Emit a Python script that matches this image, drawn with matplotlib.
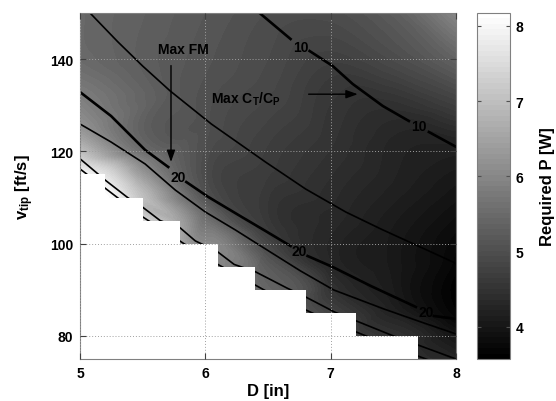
import numpy as np
import matplotlib
matplotlib.use('Agg')
import matplotlib.pyplot as plt
import matplotlib.tri as mtri
from matplotlib.colors import ListedColormap

plt.rcParams['font.family'] = ['Liberation Sans', 'DejaVu Sans']
plt.rcParams['font.weight'] = 'bold'
plt.rcParams['axes.labelweight'] = 'bold'
plt.rcParams['mathtext.fontset'] = 'custom'
plt.rcParams['mathtext.rm'] = 'Liberation Sans:bold'
plt.rcParams['mathtext.bf'] = 'Liberation Sans:bold'
plt.rcParams['mathtext.it'] = 'Liberation Sans:bold'

# ---------------- data ----------------
# Required power samples (D [in], v_tip [ft/s], P [W])
pw_D = [5.0, 5.5, 6.0, 6.5, 7.0, 7.5, 8.0,
        5.0, 6.0, 7.0, 7.5, 8.0,
        5.3, 5.5, 5.72, 6.048, 6.48, 7.12, 7.40, 7.976,
        6.5, 7.02, 7.42, 7.68, 8.0, 8.0,
        7.0, 7.5, 8.0, 8.0, 8.0, 7.5,
        5.0, 5.52, 6.02, 6.48, 7.02, 7.68, 8.0,
        5.0, 5.52, 6.0, 6.48, 7.02, 7.42, 8.0,
        5.0, 5.5, 5.92, 6.4, 6.8, 7.2, 7.7, 8.0,
        5.0, 5.2, 5.5, 5.8, 6.1, 6.4, 6.8, 7.7,
        5.2, 5.5, 5.8, 6.1, 6.4, 6.8, 7.2, 7.7,
        5.0, 5.0, 5.0, 6.0, 6.5, 7.2]
pw_v = [150, 150, 150, 150, 150, 150, 150,
        140, 140, 140, 140, 140,
        143.8, 138.5, 133.1, 125.9, 117.7, 106.9, 103.2, 96.0,
        135, 138.5, 129.8, 125.3, 121.0, 130,
        120, 112, 110, 100, 90, 95,
        132.9, 120.3, 110.1, 102.8, 95.0, 86.3, 83.7,
        125.9, 117.3, 106.9, 98.9, 90.0, 85.9, 80.4,
        118.4, 107.9, 100.6, 93.9, 88.45, 83.3, 78.0, 75.0,
        115, 115, 110, 105, 100, 95, 90, 80,
        110, 105, 100, 95, 90, 85, 80, 75,
        75, 100, 110, 80, 75, 75]
pw_P = [5.45, 5.3, 5.15, 5.0, 4.98, 5.25, 6.0,
        5.5, 5.1, 4.75, 4.95, 5.35,
        5.35, 5.28, 5.2, 5.0, 4.7, 4.3, 4.12, 3.72,
        4.9, 4.7, 4.45, 4.3, 4.2, 4.72,
        4.5, 4.2, 3.95, 3.75, 3.6, 4.05,
        5.8, 5.5, 5.05, 4.7, 4.3, 3.95, 3.72,
        6.2, 5.95, 5.45, 5.0, 4.5, 4.25, 3.95,
        7.3, 6.9, 6.1, 5.45, 5.0, 4.65, 4.35, 4.25,
        8.1, 7.6, 7.0, 6.45, 6.0, 5.5, 5.05, 4.35,
        8.17, 7.4, 6.6, 6.05, 5.55, 5.1, 4.75, 4.45,
        8.17, 8.17, 8.17, 7.0, 6.2, 5.2]

# infeasible (blank) staircase: band top v and minimum feasible D
step_vtop = [115, 110, 105, 100, 95, 90, 85, 80]
step_Dmin = [5.2, 5.5, 5.8, 6.1, 6.4, 6.8, 7.2, 7.7]
step_height = 5

# contour lines (NaN = gap for inline label)
cA_D = [6.424, 6.68, np.nan, 6.832, 7.016, 7.176, 7.416, 7.624, np.nan, 7.784, 8.0]
cA_v = [150.2, 144.36, np.nan, 141.76, 138.51, 134.61, 129.84, 126.59, np.nan, 124.20, 121.0]
cB_D = [5.08, 5.3, 5.5, 5.72, 6.048, 6.48, 6.80, 7.12, 7.40, 7.976, 8.0]
cB_v = [150.0, 143.8, 138.5, 133.09, 125.94, 117.70, 111.85, 106.87, 103.19, 96.03, 95.6]
cC_D = [5.0, 5.248, 5.52, 5.704, np.nan, 5.848, 6.024, 6.264, 6.48, 6.68, np.nan,
        6.816, 7.016, 7.32, 7.68, np.nan, 7.824, 8.0]
cC_v = [132.87, 127.67, 120.30, 116.62, np.nan, 113.37, 110.12, 106.22, 102.75, 99.50, np.nan,
        97.33, 94.95, 90.83, 86.28, np.nan, 84.33, 83.68]
cD_D = [5.0, 5.248, 5.52, 5.76, 6.0, 6.24, 6.48, 6.76, 7.024, 7.424, 7.72, 8.0]
cD_v = [125.94, 122.03, 117.27, 111.63, 106.87, 102.97, 98.85, 94.08, 89.97, 85.85, 83.03, 80.43]
cE_D = [5.0, 5.144, 5.2, 5.38, 5.5, 5.64, 5.8, 5.92, 6.09, 6.23, 6.4, 6.65, 6.8, 7.03, 7.2, 7.5, 7.7, 8.0]
cE_v = [118.4, 115.1, 113.8, 110.0, 107.9, 105.0, 103.4, 100.6, 98.4, 95.5, 93.9, 90.4, 88.45, 85.2, 83.3, 80.0, 78.0, 75.0]
cF_D = [5.0, 5.5, 6.0, 6.5, 7.0, 7.5, 7.8]
cF_v = [116.2, 105.8, 97.0, 89.5, 83.1, 77.6, 74.6]

labels_10 = [(6.764, 142.6), (7.706, 125.4)]
labels_20 = [(5.786, 114.4), (6.746, 98.5), (7.76, 85.1)]

fm_text = (5.828, 142.2)
fm_arrow = [(5.726, 138.6), (5.726, 117.7)]
ct_text = (6.048, 130.5)
ct_arrow = [(6.824, 132.4), (7.216, 132.4)]

xlim = (5, 8)
ylim = (75, 150)
clim = (3.57, 8.17)

# ---------------- figure ----------------
fig = plt.figure(figsize=(5.56, 4.02), dpi=100)
ax = fig.add_axes([80/556, 42/402, 376/556, 346/402])
cax = fig.add_axes([477/556, 42/402, 33/556, 346/402])

cmap = ListedColormap(np.column_stack([np.linspace(0, 1, 64)] * 3))

# triangulate in normalised coordinates so the mesh is not distorted
xr = xlim[1] - xlim[0]
yr = ylim[1] - ylim[0]
tx = (np.array(pw_D, float) - xlim[0]) / xr
ty = (np.array(pw_v, float) - ylim[0]) / yr
tri = mtri.Triangulation(tx, ty)
interp = mtri.CubicTriInterpolator(tri, np.array(pw_P, float), kind='geom')
gx, gy = np.meshgrid(np.linspace(0, 1, 376), np.linspace(0, 1, 346))
Pg = np.clip(np.ma.filled(interp(gx, gy), np.nan), clim[0], clim[1])
im = ax.imshow(Pg, extent=[xlim[0], xlim[1], ylim[0], ylim[1]], origin='lower',
               aspect='auto', cmap=cmap, vmin=clim[0], vmax=clim[1],
               interpolation='nearest', zorder=0)

for Dl, vl, lw in [(cA_D, cA_v, 1.9), (cC_D, cC_v, 1.9), (cB_D, cB_v, 1.2),
                   (cD_D, cD_v, 1.2), (cE_D, cE_v, 1.2), (cF_D, cF_v, 1.2)]:
    ax.plot(Dl, vl, color='black', lw=lw, zorder=1)

# blank staircase
poly_D = [xlim[0]]
poly_v = [step_vtop[0]]
for Dm, vt in zip(step_Dmin, step_vtop):
    poly_D += [Dm, Dm]
    poly_v += [vt, vt - step_height]
poly_D += [xlim[0]]
poly_v += [step_vtop[-1] - step_height]
ax.fill(poly_D, poly_v, color='white', lw=0, zorder=1.5)

for (x, y) in labels_10:
    ax.text(x, y, '10', ha='center', va='center', fontsize=10, zorder=3)
for (x, y) in labels_20:
    ax.text(x, y, '20', ha='center', va='center', fontsize=10, zorder=3)

ax.text(fm_text[0], fm_text[1], 'Max FM', ha='center', va='center', fontsize=10, zorder=3)
ax.annotate('', xy=fm_arrow[1], xytext=fm_arrow[0],
            arrowprops=dict(arrowstyle='-|>,head_length=0.7,head_width=0.25',
                            color='black', lw=1.0, shrinkA=0, shrinkB=0), zorder=3)
ax.text(ct_text[0], ct_text[1], r'Max C$_{\mathbf{T}}$/C$_{\mathbf{P}}$', ha='left',
        va='baseline', fontsize=10, zorder=3)
ax.annotate('', xy=ct_arrow[1], xytext=ct_arrow[0],
            arrowprops=dict(arrowstyle='-|>,head_length=0.7,head_width=0.25',
                            color='black', lw=1.0, shrinkA=0, shrinkB=0), zorder=3)

ax.set_xlim(*xlim)
ax.set_ylim(*ylim)
ax.set_xticks([5, 6, 7, 8])
ax.set_yticks([80, 100, 120, 140])
ax.set_axisbelow(False)
ax.grid(True, color='#a0a0a0', linestyle=(0, (1, 2)), lw=0.7)
ax.tick_params(direction='in', top=True, right=True, length=4, width=0.8,
               color='#404040', labelsize=10, pad=5)
for s in ax.spines.values():
    s.set_color('#808080')
    s.set_linewidth(0.8)
ax.set_xlabel('D [in]', fontsize=12, labelpad=2)
ax.set_ylabel(r'v$_{\mathbf{tip}}$ [ft/s]', fontsize=12, labelpad=10)

cb = fig.colorbar(im, cax=cax, ticks=[4, 5, 6, 7, 8])
cb.outline.set_edgecolor('#808080')
cb.outline.set_linewidth(0.8)
cax.tick_params(direction='in', left=True, right=True, length=3, width=0.8,
                color='#505050', labelsize=10, pad=4)
cb.set_label('Required P [W]', fontsize=12, labelpad=12)

fig.savefig('out.png', dpi=100)
